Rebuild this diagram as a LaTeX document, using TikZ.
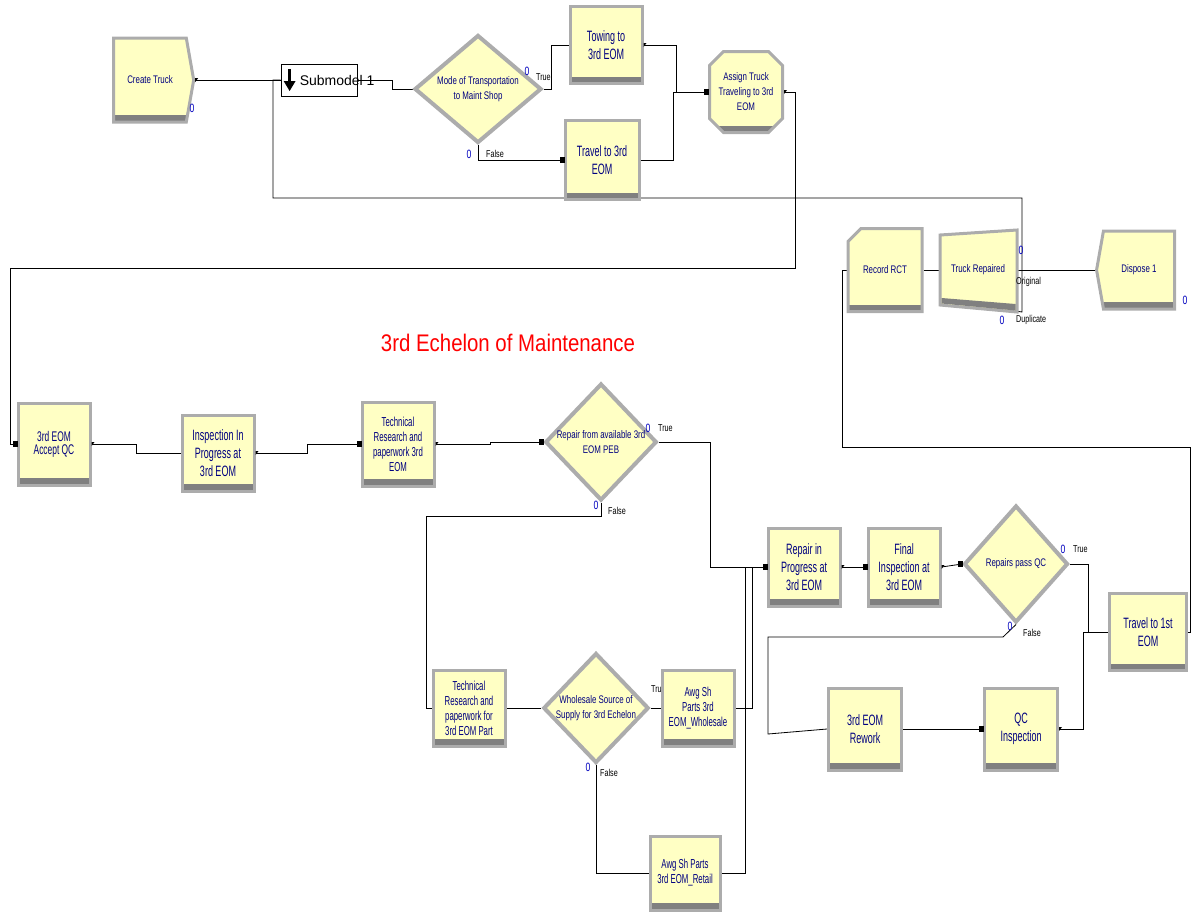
\documentclass[tikz,border=0pt]{standalone}
\usepackage{fontspec}
\setmainfont{Liberation Sans}
\newfontfamily\arenabig[FakeStretch=0.6]{Liberation Sans}
\newfontfamily\arenasml[FakeStretch=0.72]{Liberation Sans}
\newfontfamily\titlefnt[FakeStretch=0.85]{Liberation Sans}
\usetikzlibrary{shapes.geometric,shapes.misc,shapes.symbols,backgrounds}
\definecolor{modfill}{RGB}{255,255,196}
\definecolor{modtext}{RGB}{0,0,128}
\definecolor{bevel}{RGB}{172,172,172}
\definecolor{beveldark}{RGB}{128,128,128}
\definecolor{cntblue}{RGB}{0,0,190}
\newcommand{\bigtxt}{\arenabig\fontsize{15}{18}\selectfont}
\newcommand{\midtxt}{\arenabig\fontsize{13}{15}\selectfont}
\newcommand{\smltxt}{\arenasml\fontsize{11}{15}\selectfont}
\newcommand{\inport}[1]{\fill ([xshift=-4pt,yshift=-3pt]#1.west) rectangle ([xshift=1pt,yshift=3pt]#1.west);}
\newcommand{\outport}[1]{\fill ([yshift=2pt]#1.east) -- ++(3pt,0pt) -- ++(-3pt,-4pt) -- cycle;}
\tikzset{
  module/.style={rectangle, draw=bevel, line width=3pt, fill=modfill, text=modtext,
    align=center, inner sep=0pt, font=\bigtxt,
    path picture={\fill[beveldark] ([yshift=7pt]path picture bounding box.south west)
      rectangle (path picture bounding box.south east);}},
  decide/.style={diamond, draw=bevel, line width=4pt, fill=modfill, text=modtext,
    align=center, inner sep=0pt, font=\smltxt},
  count/.style={text=cntblue, font=\arenasml\fontsize{12}{12}\selectfont, inner sep=0pt},
  tag/.style={font=\arenasml\fontsize{10}{10}\selectfont, inner sep=0pt, anchor=west},
  conn/.style={draw, line width=0.8pt}
}

\begin{document}
\begin{tikzpicture}[x=1pt,y=-1pt]
  \useasboundingbox (0,0) rectangle (1193,911);

  % top row
  \node[module, shape=signal, signal to=east, signal pointer angle=160,
    minimum width=80pt, minimum height=84pt, font=\smltxt] (create) at (150,80) {Create Truck};
  \node[draw, fill=white, line width=0.8pt, minimum width=76pt, minimum height=32pt] (sub) at (319,80) {};
  \draw[line width=2.5pt] ([xshift=9pt,yshift=11pt]sub.west) -- ([xshift=9pt,yshift=-3pt]sub.west);
  \fill ([xshift=3pt,yshift=-1pt]sub.west) -- ([xshift=15pt,yshift=-1pt]sub.west)
    -- ([xshift=9pt,yshift=-11pt]sub.west) -- cycle;
  \node[anchor=west, inner sep=0pt, font=\fontsize{14}{14}\selectfont] (sublabel)
    at ([xshift=19pt]sub.west) {Submodel 1};

  \node[decide, minimum width=127pt, minimum height=108pt] (mode) at (478,89)
    {Mode of Transportation\\to Maint Shop};
  \node[count] (modeTc) at (527,71) {0};
  \node[tag] (modeT) at (536,77) {True};
  \node[count] (modeFc) at (469,154) {0};
  \node[tag] (modeF) at (486,154) {False};

  \node[module, minimum width=72pt, minimum height=77pt] (towing) at (606,45) {Towing to\\3rd EOM};
  \node[module, minimum width=74pt, minimum height=79pt] (travel) at (602,160) {Travel to 3rd\\EOM};
  \node[module, chamfered rectangle, chamfered rectangle xsep=7pt, chamfered rectangle ysep=7pt,
    minimum width=73pt, minimum height=81pt, font=\smltxt] (assign) at (746,92)
    {Assign Truck\\Traveling to 3rd\\EOM};

  \node[module, chamfered rectangle, chamfered rectangle corners=north west,
    chamfered rectangle xsep=9pt, chamfered rectangle ysep=9pt,
    minimum width=74pt, minimum height=83pt, font=\smltxt] (record) at (885,270) {Record RCT};
  \filldraw[draw=bevel, fill=modfill, line width=3pt] (940,235) -- (1017,230) -- (1017,312) -- (940,305) -- cycle;
  \fill[beveldark] (941.5,298) -- (1015.5,304) -- (1015.5,310.5) -- (941.5,303.5) -- cycle;
  \node[text=modtext, font=\smltxt, inner sep=0pt, minimum width=77pt, minimum height=82pt]
    (repaired) at (978,270) {Truck Repaired};
  \node[count] (origc) at (1021,250) {0};
  \node[tag] (orig) at (1016,282) {Original};
  \node[count] (dupc) at (1002,320) {0};
  \node[tag] (dup) at (1016,320) {Duplicate};
  \node[module, shape=signal, signal to=west, signal pointer angle=160,
    minimum width=78pt, minimum height=78pt, font=\smltxt] (dispose) at (1139,270) {Dispose 1};
  \node[count] (disposec) at (1185,300) {0};
  \node[count] (createc) at (192,108) {0};

  \node[text=red, font=\titlefnt\fontsize{24}{24}\selectfont] (title) at (508,343)
    {3rd Echelon of Maintenance};

  % second row
  \node[module, minimum width=72pt, minimum height=82pt, font=\arenabig\fontsize{14}{13}\selectfont]
    (accept) at (54,444) {3rd EOM\\Accept QC};
  \node[module, minimum width=72pt, minimum height=76pt] (inspect) at (218,453)
    {Inspection In\\Progress at\\3rd EOM};
  \node[module, minimum width=72pt, minimum height=84pt, font=\midtxt] (tech) at (398,444)
    {Technical\\Research and\\paperwork 3rd\\EOM};
  \node[decide, minimum width=101pt, minimum height=117pt] (repair) at (601,442)
    {Repair from available 3rd\\EOM PEB};
  \node[count] (repairTc) at (648,428) {0};
  \node[tag] (repairT) at (658,428) {True};
  \node[count] (repairFc) at (596,505) {0};
  \node[tag] (repairF) at (608,511) {False};

  % third row
  \node[module, minimum width=72pt, minimum height=78pt] (repin) at (804,567)
    {Repair in\\Progress at\\3rd EOM};
  \node[module, minimum width=72pt, minimum height=78pt] (final) at (904,567)
    {Final\\Inspection at\\3rd EOM};
  \node[decide, minimum width=104pt, minimum height=117pt] (pass) at (1016,564) {Repairs pass QC};
  \node[count] (passTc) at (1063,549) {0};
  \node[tag] (passT) at (1073,549) {True};
  \node[count] (passFc) at (1010,626) {0};
  \node[tag] (passF) at (1023,633) {False};
  \node[module, minimum width=77pt, minimum height=77pt] (travelone) at (1148,632) {Travel to 1st\\EOM};
  \node[module, minimum width=73pt, minimum height=82pt] (rework) at (865,729) {3rd EOM\\Rework};
  \node[module, minimum width=73pt, minimum height=82pt] (qcinsp) at (1021,729) {QC\\Inspection};

  % parts branch
  \node[module, minimum width=72pt, minimum height=76pt, font=\midtxt] (techpart) at (469,708)
    {Technical\\Research and\\paperwork for\\3rd EOM Part};
  \node[decide, minimum width=102pt, minimum height=110pt] (whole) at (596,708)
    {Wholesale Source of\\Supply for 3rd Echelon};
  \node[tag] (wholeT) at (651,689) {True};
  \node[count] (wholeFc) at (588,767) {0};
  \node[tag] (wholeF) at (600,773) {False};
  \node[module, minimum width=72pt, minimum height=76pt, font=\midtxt] (awgw) at (698,708)
    {Awg Sh\\Parts 3rd\\EOM\_Wholesale};
  \node[module, minimum width=70pt, minimum height=74pt, font=\midtxt] (awgr) at (685,873)
    {Awg Sh Parts\\3rd EOM\_Retail};

  % connectors
  \begin{scope}[on background layer]
    \draw[conn] (create.east) -- (sub.west);
    \draw[conn] (sub.east) -- (392,80) -- (392,89) -- (mode.west);
    \draw[conn] (mode.east) -- (551,89) |- (towing.west);
    \draw[conn] (mode.south) |- (travel.west);
    \draw[conn] (towing.east) -- (676,45) |- (assign.west);
    \draw[conn] (travel.east) -- (673,160) |- (assign.west);
    \draw[conn] (assign.east) -- (795,92) -- (795,268) -- (10,268) |- (accept.west);
    \draw[conn] (record.east) -- (repaired.west);
    \draw[conn] (repaired.east) -- (dispose.west);
    \draw[conn] (repaired.south east) -- (1022,312) -- (1022,198) -- (273,198) |- (sub.west);
    \draw[conn] (travelone.east) -- (1190,632) -- (1190,447) -- (842,447) |- (record.west);
    \draw[conn] (accept.east) -- (136,444) |- (inspect.west);
    \draw[conn] (inspect.east) -- (307,453) |- (tech.west);
    \draw[conn] (tech.east) -- (490,444) |- (repair.west);
    \draw[conn] (repair.east) -- (710,442) |- (repin.west);
    \draw[conn] (repair.south) -- (601,516) -- (426,516) |- (techpart.west);
    \draw[conn] (repin.east) -- (final.west);
    \draw[conn] (final.east) -- (pass.west);
    \draw[conn] (pass.east) -- (1088,564) |- (travelone.west);
    \draw[conn] (pass.south) -- (1003,637) -- (768,637) -- (768,734) -- (rework.west);
    \draw[conn] (rework.east) -- (qcinsp.west);
    \draw[conn] (qcinsp.east) -- (1083,729) |- (travelone.west);
    \draw[conn] (techpart.east) -- (whole.west);
    \draw[conn] (whole.east) -- (awgw.west);
    \draw[conn] (whole.south) |- (awgr.west);
    \draw[conn] (awgw.east) -- (752,708) |- (repin.west);
    \draw[conn] (awgr.east) -- (745,873) |- (repin.west);
  \end{scope}

  % entry and exit points
  \foreach \m in {travel,assign,accept,tech,repair,repin,final,pass,qcinsp}{\inport{\m}}
  \foreach \m in {create,towing,assign,accept,inspect,tech,repin,final,qcinsp}{\outport{\m}}
\end{tikzpicture}
\end{document}
